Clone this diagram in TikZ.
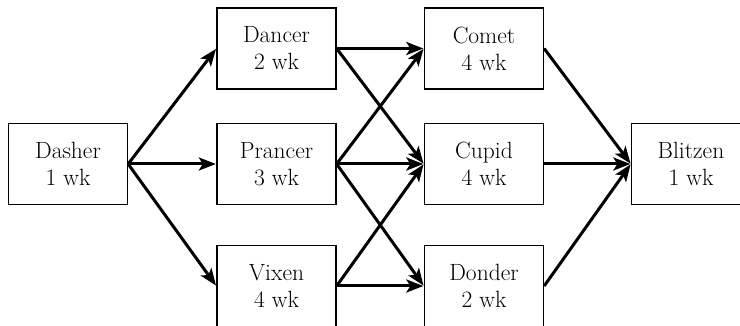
\documentclass[tikz,border=0pt]{standalone}
\usetikzlibrary{arrows.meta}
\begin{document}
\begin{tikzpicture}[x=1pt,y=-1pt,
  task/.style={draw, line width=1.3pt, minimum width=119pt, minimum height=81pt, inner sep=0pt, align=center, font=\fontsize{23.5}{27}\selectfont},
  link/.style={line width=3pt, -{Stealth[length=17pt,width=13pt,inset=4pt]}, shorten >=0.5pt}]
\useasboundingbox (0,0) rectangle (740,326);
\node[task] (dasher) at (68,164) {Dasher\\1 wk};
\node[task] (dancer) at (276.5,48.5) {Dancer\\2 wk};
\node[task] (prancer) at (276.5,164) {Prancer\\3 wk};
\node[task] (vixen) at (276.5,286) {Vixen\\4 wk};
\node[task] (comet) at (484,48.5) {Comet\\4 wk};
\node[task] (cupid) at (484,164) {Cupid\\4 wk};
\node[task] (donder) at (484,286) {Donder\\2 wk};
\node[task] (blitzen) at (691,164) {Blitzen\\1 wk};
\draw[link] (dasher.east) -- (dancer.west);
\draw[link] (dasher.east) -- (prancer.west);
\draw[link] (dasher.east) -- (vixen.west);
\draw[link] (dancer.east) -- (comet.west);
\draw[link] (dancer.east) -- (cupid.west);
\draw[link] (prancer.east) -- (comet.west);
\draw[link] (prancer.east) -- (cupid.west);
\draw[link] (prancer.east) -- (donder.west);
\draw[link] (vixen.east) -- (cupid.west);
\draw[link] (vixen.east) -- (donder.west);
\draw[link] (comet.east) -- (blitzen.west);
\draw[link] (cupid.east) -- (blitzen.west);
\draw[link] (donder.east) -- (blitzen.west);
\end{tikzpicture}
\end{document}
